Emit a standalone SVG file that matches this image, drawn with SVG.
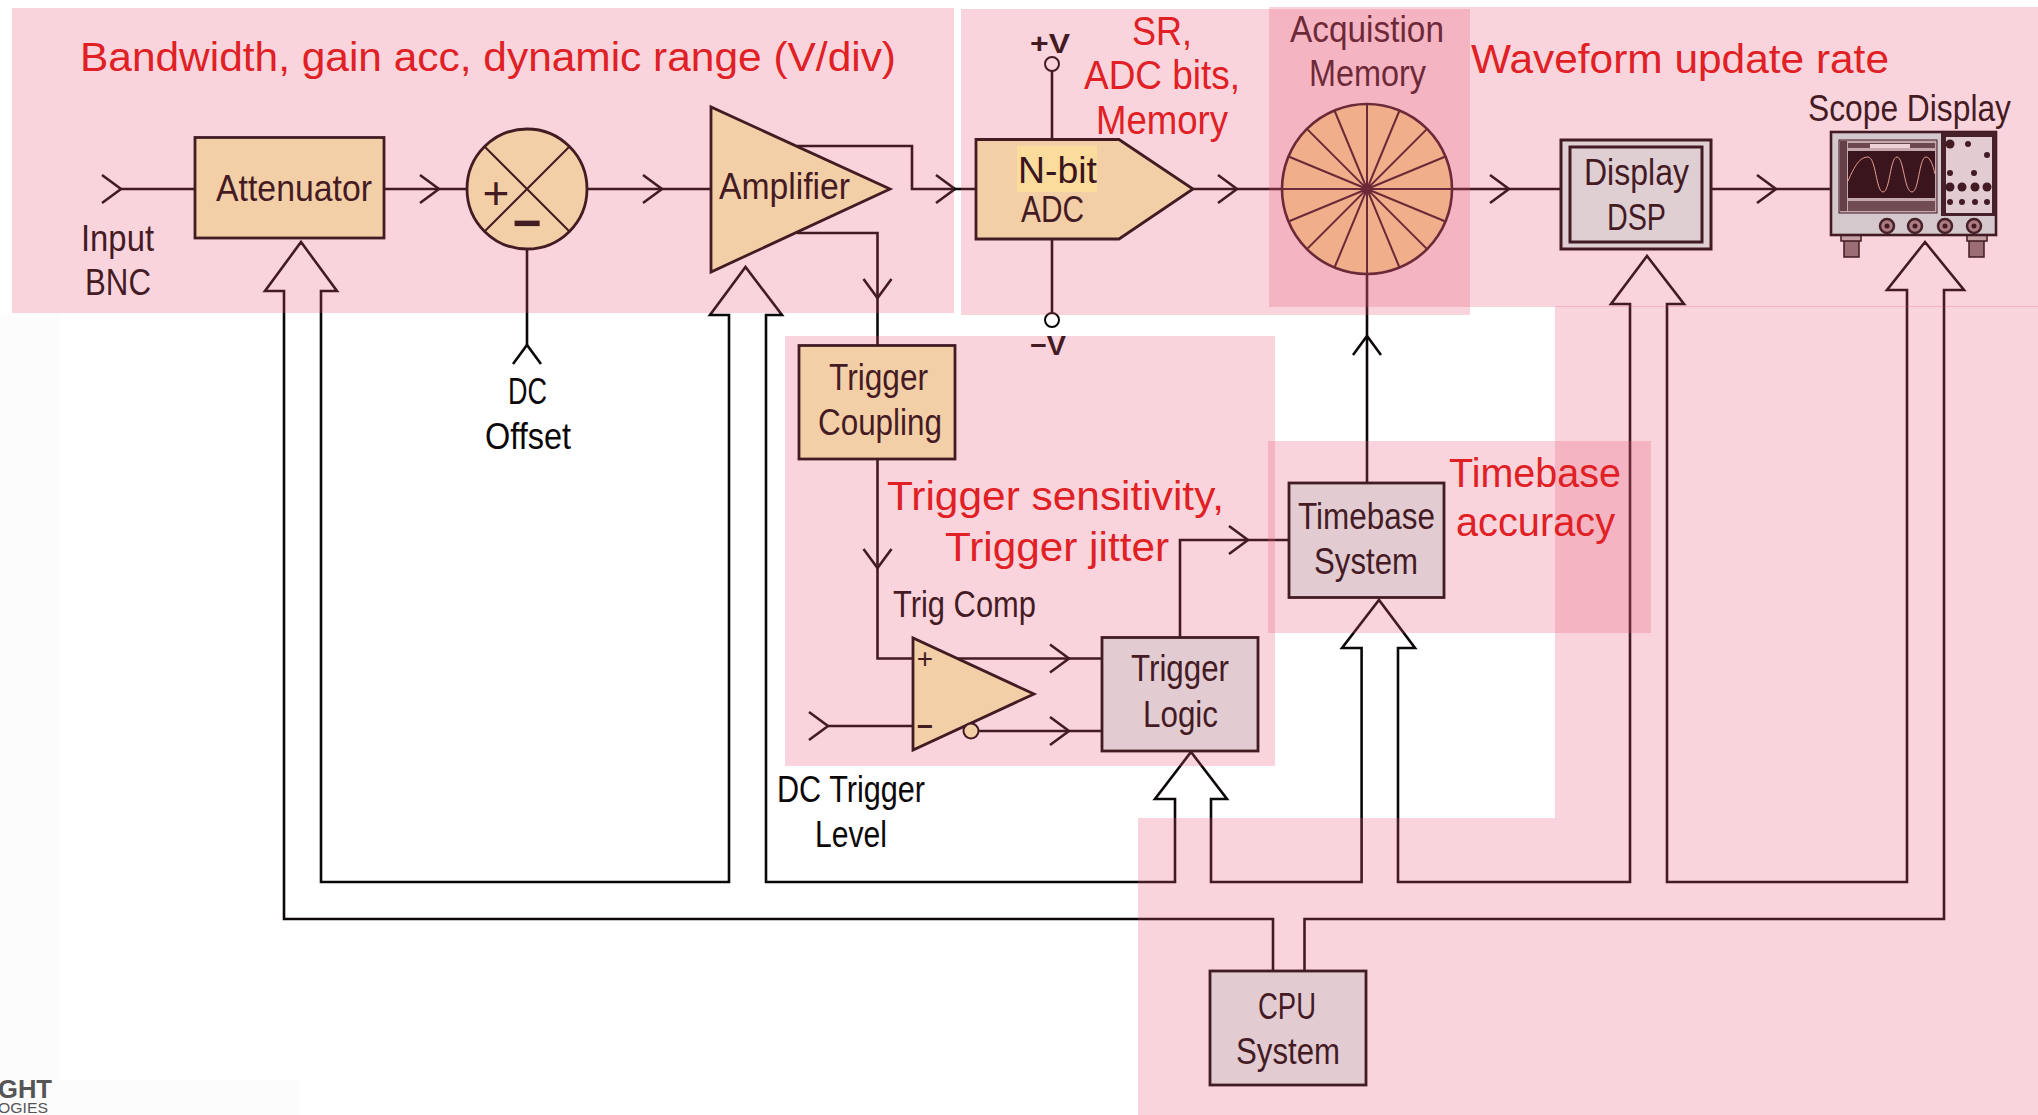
<svg xmlns="http://www.w3.org/2000/svg" xmlns:xlink="http://www.w3.org/1999/xlink" width="2038" height="1115" viewBox="0 0 2038 1115">
<style>
text{font-family:"Liberation Sans",Arial,sans-serif}
.l{font-size:37.5px;fill:#0c0809;transform:translate(0,1.5px)}
.s{font-size:28px}
.r{font-size:41px;fill:#e02024}
.ln{fill:none;stroke:#0c0809;stroke-width:2.6;stroke-linejoin:miter}
.thin{stroke-width:2}
.b{fill:#f7f9b8;stroke:#0c0809;stroke-width:2.8}
.p{fill:#e0f5f1;stroke:#0c0809;stroke-width:2.8}
.band{fill:#e85473;opacity:.25}
.d{fill:#0c0809}
</style>
<defs>
<path id="ch" d="M-19 -14L0 0L-19 14" fill="none" stroke="#0c0809" stroke-width="2.6"/>
</defs>
<rect width="2038" height="1115" fill="#fff"/>
<g id="smudge" fill="#fcfcfc">
<rect x="0" y="313" width="60" height="802"/>
<rect x="60" y="1080" width="240" height="35"/>
</g>
<g id="connectors">
<path class="ln" d="M121 189H195M384 189H468M587 189H711M797 146H912V189H976M797 233H877.5V345M527 249V345M1052 71V139M1052 239V313M1193 189H1282M1452 189H1560M1712 189H1831M1367 274V483M877.5 459V658.5H913M957 658.5H1102M979 731H1102M828 726H913M1180 637V540H1289"/>
<path class="ln" d="M1273 970V919H284V291H265L301 242L337 291H321V882H729V315H710L745.500 267L782 315H766V882H1175V799H1155L1191 752L1227 799H1211V882H1361.600V648H1342L1379 600L1415 648H1398V882H1630V304H1611L1647 256L1684 304H1667V882H1907V290H1887L1925 242L1964 290H1944V919H1304.500V970"/>
<use xlink:href="#ch" href="#ch" transform="translate(121 189)"/>
<use xlink:href="#ch" href="#ch" transform="translate(439 189)"/>
<use xlink:href="#ch" href="#ch" transform="translate(662 189)"/>
<use xlink:href="#ch" href="#ch" transform="translate(955 189)"/>
<use xlink:href="#ch" href="#ch" transform="translate(877.5 298) rotate(90)"/>
<use xlink:href="#ch" href="#ch" transform="translate(527 345) rotate(-90)"/>
<use xlink:href="#ch" href="#ch" transform="translate(1237 189)"/>
<use xlink:href="#ch" href="#ch" transform="translate(1509 189)"/>
<use xlink:href="#ch" href="#ch" transform="translate(1776 189)"/>
<use xlink:href="#ch" href="#ch" transform="translate(1367 336) rotate(-90)"/>
<use xlink:href="#ch" href="#ch" transform="translate(877.5 568) rotate(90)"/>
<use xlink:href="#ch" href="#ch" transform="translate(1069 658.5)"/>
<use xlink:href="#ch" href="#ch" transform="translate(1069 731)"/>
<use xlink:href="#ch" href="#ch" transform="translate(828 726)"/>
<use xlink:href="#ch" href="#ch" transform="translate(1248 540)"/>
</g>
<g id="input-bnc">
<text class="l" x="81" y="249" textLength="73" lengthAdjust="spacingAndGlyphs">Input</text>
<text class="l" x="85" y="293" textLength="66" lengthAdjust="spacingAndGlyphs">BNC</text>
</g>
<g id="attenuator">
<rect class="b" x="195" y="137.500" width="189" height="100.500"/>
<text class="l" x="216" y="199" textLength="156" lengthAdjust="spacingAndGlyphs">Attenuator</text>
</g>
<g id="summer">
<circle class="b" cx="527" cy="189" r="60"/>
<path class="ln thin" d="M485 147L569 231M569 147L485 231"/>
<text x="496" y="209" text-anchor="middle" font-size="46" fill="#0c0809">+</text>
<text x="527" y="240" text-anchor="middle" font-size="50" font-weight="bold" fill="#0c0809">−</text>
</g>
<g id="dc-offset">
<text class="l" x="508" y="402" textLength="39" lengthAdjust="spacingAndGlyphs">DC</text>
<text class="l" x="485" y="447" textLength="86" lengthAdjust="spacingAndGlyphs">Offset</text>
</g>
<g id="amplifier">
<path class="b" d="M711 107V272L890 189Z"/>
<text class="l" x="719" y="197" textLength="131" lengthAdjust="spacingAndGlyphs">Amplifier</text>
</g>
<g id="adc">
<path class="b" d="M976 139.500H1119L1193 189L1119 239H976Z"/>
<text class="l" x="1021" y="220" textLength="63" lengthAdjust="spacingAndGlyphs">ADC</text>
<circle cx="1052" cy="64" r="7" fill="#fff" stroke="#0c0809" stroke-width="2"/>
<circle cx="1052" cy="320" r="7" fill="#fff" stroke="#0c0809" stroke-width="2"/>
<text class="l s" x="1030" y="51" textLength="40" lengthAdjust="spacingAndGlyphs" font-weight="bold">+V</text>
<text class="l s" x="1030" y="353" textLength="36" lengthAdjust="spacingAndGlyphs" font-weight="bold">−V</text>
</g>
<g id="acquisition-memory">
<circle cx="1367" cy="189" r="85" fill="#f7f49c" stroke="#0c0809" stroke-width="2.6"/>
<path class="ln thin" d="M1367 104V274M1399.5 110.500L1334.500 267.500M1427.100 128.900L1306.900 249.100M1445.500 156.500L1288.500 221.500M1282 189H1452M1445.500 221.500L1288.500 156.500M1427.100 249.100L1306.900 128.900M1399.500 267.500L1334.500 110.500"/>
<circle class="d" cx="1367" cy="189" r="4"/>
<text class="l" x="1290" y="40" textLength="154" lengthAdjust="spacingAndGlyphs">Acquistion</text>
<text class="l" x="1309" y="84" textLength="117" lengthAdjust="spacingAndGlyphs">Memory</text>
</g>
<g id="display-dsp">
<rect x="1561" y="140" width="150" height="109" fill="#ddf8f3" stroke="#0c0809" stroke-width="3"/>
<rect x="1570" y="147" width="132" height="95" fill="#ddf8f3" stroke="#0c0809" stroke-width="3"/>
<text class="l" x="1584" y="183" textLength="105" lengthAdjust="spacingAndGlyphs">Display</text>
<text class="l" x="1607" y="228" textLength="59" lengthAdjust="spacingAndGlyphs">DSP</text>
</g>
<g id="scope-display">
<text class="l" x="1808" y="119" textLength="203" lengthAdjust="spacingAndGlyphs">Scope Display</text>
<rect x="1844" y="236" width="15" height="21" fill="#807775" stroke="#0c0809" stroke-width="1.5"/>
<rect x="1969" y="236" width="15" height="21" fill="#807775" stroke="#0c0809" stroke-width="1.5"/>
<rect x="1841" y="235" width="20" height="6" fill="#b8bab6" stroke="#0c0809" stroke-width="1.5"/>
<rect x="1967" y="235" width="20" height="6" fill="#b8bab6" stroke="#0c0809" stroke-width="1.5"/>
<rect x="1831" y="132" width="165" height="103" fill="#cfefeb" stroke="#0c0809" stroke-width="2.6"/>
<rect x="1839" y="140" width="98" height="73" fill="#b8c4c2" stroke="#0c0809" stroke-width="1"/>
<rect x="1848" y="151" width="87" height="47" fill="#000"/>
<rect x="1840" y="141" width="7" height="70" fill="#3a3a3a"/>
<rect x="1848" y="143" width="87" height="5" fill="#444"/>
<rect x="1870" y="144" width="40" height="4" fill="#f2fbfa"/>
<rect x="1848" y="201" width="87" height="10" fill="#4a4a4a"/>
<path d="M1848 181C1855 165 1860 157 1868 157C1876 157 1876 192 1883 192C1890 192 1890 157 1897 157C1904 157 1904 192 1912 192C1919 192 1919 157 1926 157C1930 157 1933 165 1935 174" fill="none" stroke="#e5b89c" stroke-width="1"/>
<rect x="1941" y="132" width="55" height="84" fill="#111"/>
<rect x="1946" y="137" width="46" height="76" fill="#e0f5f1"/>
<g class="d">
<circle cx="1950" cy="144" r="4.5"/><circle cx="1968" cy="144" r="3"/><circle cx="1987" cy="155" r="3"/><circle cx="1950" cy="173" r="3"/><circle cx="1974" cy="173" r="3"/>
<circle cx="1950" cy="187" r="4.5"/><circle cx="1962" cy="187" r="4.5"/><circle cx="1975" cy="187" r="4.5"/><circle cx="1987" cy="187" r="4.5"/>
<circle cx="1950" cy="202" r="3"/><circle cx="1962" cy="202" r="3"/><circle cx="1975" cy="202" r="3"/><circle cx="1987" cy="202" r="3"/>
</g>
<g fill="#9a8a88" stroke="#111" stroke-width="2.5">
<circle cx="1887" cy="226" r="7"/><circle cx="1915" cy="226" r="7"/><circle cx="1945" cy="226" r="7"/><circle cx="1974" cy="226" r="7"/>
</g>
<g class="d">
<circle cx="1887" cy="226" r="2.5"/><circle cx="1915" cy="226" r="2.5"/><circle cx="1945" cy="226" r="2.5"/><circle cx="1974" cy="226" r="2.5"/>
</g>
</g>
<g id="trigger-coupling">
<rect class="b" x="799" y="345.500" width="156" height="113.500"/>
<text class="l" x="829" y="388" textLength="99" lengthAdjust="spacingAndGlyphs">Trigger</text>
<text class="l" x="818" y="433" textLength="124" lengthAdjust="spacingAndGlyphs">Coupling</text>
</g>
<g id="trig-comp">
<path class="b" d="M913 638V750L1034 694Z"/>
<circle cx="971" cy="731" r="7.5" fill="#f7f9b8" stroke="#0c0809" stroke-width="2"/>
<text x="925" y="668" text-anchor="middle" font-size="28" fill="#0c0809">+</text>
<text x="925" y="736" text-anchor="middle" font-size="28" font-weight="bold" fill="#0c0809">−</text>
<text class="l" x="893" y="615" textLength="143" lengthAdjust="spacingAndGlyphs">Trig Comp</text>
</g>
<g id="dc-trigger-level">
<text class="l" x="777" y="800" textLength="148" lengthAdjust="spacingAndGlyphs">DC Trigger</text>
<text class="l" x="815" y="845" textLength="72" lengthAdjust="spacingAndGlyphs">Level</text>
</g>
<g id="trigger-logic">
<rect class="p" x="1102" y="637.500" width="156" height="113.500"/>
<text class="l" x="1131" y="679" textLength="98" lengthAdjust="spacingAndGlyphs">Trigger</text>
<text class="l" x="1143" y="725" textLength="75" lengthAdjust="spacingAndGlyphs">Logic</text>
</g>
<g id="timebase-system">
<rect class="p" x="1289" y="483" width="155" height="114.500"/>
<text class="l" x="1298" y="527" textLength="137" lengthAdjust="spacingAndGlyphs">Timebase</text>
<text class="l" x="1314" y="572" textLength="104" lengthAdjust="spacingAndGlyphs">System</text>
</g>
<g id="cpu-system">
<rect class="p" x="1210" y="971" width="156" height="114"/>
<text class="l" x="1258" y="1017" textLength="58" lengthAdjust="spacingAndGlyphs">CPU</text>
<text class="l" x="1236" y="1062" textLength="104" lengthAdjust="spacingAndGlyphs">System</text>
</g>
<g id="logo" fill="#555">
<text x="-2" y="1098" font-size="26" font-weight="bold" textLength="54" lengthAdjust="spacingAndGlyphs">GHT</text>
<text x="-2" y="1113" font-size="14" textLength="50" lengthAdjust="spacingAndGlyphs">OGIES</text>
</g>
<g id="bands">
<rect class="band" x="12" y="8" width="942" height="305"/>
<rect class="band" x="961" y="9" width="509" height="306"/>
<rect class="band" x="1269" y="7" width="769" height="300"/>
<rect class="band" x="1555" y="306" width="483" height="809"/>
<rect class="band" x="785" y="336" width="490" height="430"/>
<rect class="band" x="1268" y="441" width="383" height="192"/>
<rect class="band" x="1138" y="818" width="417" height="297"/>
</g>
<g id="annotations">
<rect x="1017" y="146" width="80" height="46" fill="#fbdc9c"/>
<text x="1018" y="183" font-size="37.5" fill="#3a1520" textLength="79" lengthAdjust="spacingAndGlyphs">N-bit</text>
<text class="r" x="80" y="71" textLength="816" lengthAdjust="spacingAndGlyphs">Bandwidth, gain acc, dynamic range (V/div)</text>
<text class="r" x="1132" y="45" textLength="60" lengthAdjust="spacingAndGlyphs">SR,</text>
<text class="r" x="1084" y="89" textLength="156" lengthAdjust="spacingAndGlyphs">ADC bits,</text>
<text class="r" x="1096" y="134" textLength="132" lengthAdjust="spacingAndGlyphs">Memory</text>
<text class="r" x="1471" y="73" textLength="418" lengthAdjust="spacingAndGlyphs">Waveform update rate</text>
<text class="r" x="887" y="510" textLength="337" lengthAdjust="spacingAndGlyphs">Trigger sensitivity,</text>
<text class="r" x="945" y="561" textLength="224" lengthAdjust="spacingAndGlyphs">Trigger jitter</text>
<text class="r" x="1449" y="487" textLength="172" lengthAdjust="spacingAndGlyphs">Timebase</text>
<text class="r" x="1456" y="536" textLength="159" lengthAdjust="spacingAndGlyphs">accuracy</text>
</g>
</svg>
